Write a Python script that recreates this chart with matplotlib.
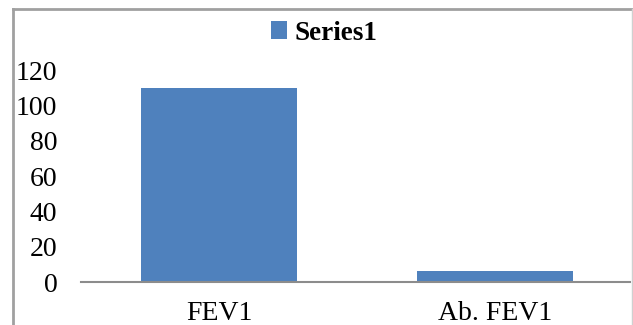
import matplotlib
matplotlib.use('Agg')
import matplotlib.pyplot as plt
from matplotlib.lines import Line2D

# chart data
categories = ['FEV1', 'Ab. FEV1']
values = [110, 6]
yticks = [0, 20, 40, 60, 80, 100, 120]

plt.rcParams['font.family'] = ['Liberation Serif', 'DejaVu Serif']

W, H = 633, 325
fig = plt.figure(figsize=(W / 100, H / 100), dpi=100)
ax = fig.add_axes([81 / W, 1 - 282 / H, 549 / W, 212 / H])

bars = ax.bar([0, 1], values, width=0.565, color='#4F81BD',
              label='Series1', zorder=2)
ax.set_xlim(-0.5, 1.49)
ax.set_ylim(0, 120)
ax.set_yticks(yticks)
ax.set_xticks([0, 1])
ax.set_xticklabels(categories)
ax.tick_params(axis='both', length=0, labelsize=20)
ax.tick_params(axis='y', pad=17)
ax.tick_params(axis='x', pad=14)

for s in ['top', 'right', 'left']:
    ax.spines[s].set_visible(False)
ax.spines['bottom'].set_color('#8c8c8c')
ax.spines['bottom'].set_linewidth(1.5)

leg = fig.legend(handles=[bars], labels=['Series1'], loc='center',
                 bbox_to_anchor=(324 / W, 1 - 33 / H), frameon=False,
                 prop={'weight': 'bold', 'size': 19.5}, handlelength=0.6,
                 handleheight=0.65, handletextpad=0.25, borderpad=0)

# outer chart border (bottom clipped)
fig.add_artist(Line2D([13 / W, 13 / W], [0, 1 - 9 / H], color='#a0a0a0', lw=2))
fig.add_artist(Line2D([13 / W, 632 / W], [1 - 9 / H, 1 - 9 / H], color='#a0a0a0', lw=2))
fig.add_artist(Line2D([632 / W, 632 / W], [0, 1 - 9 / H], color='#d0d0d0', lw=1))

fig.savefig('out.png', dpi=100)
